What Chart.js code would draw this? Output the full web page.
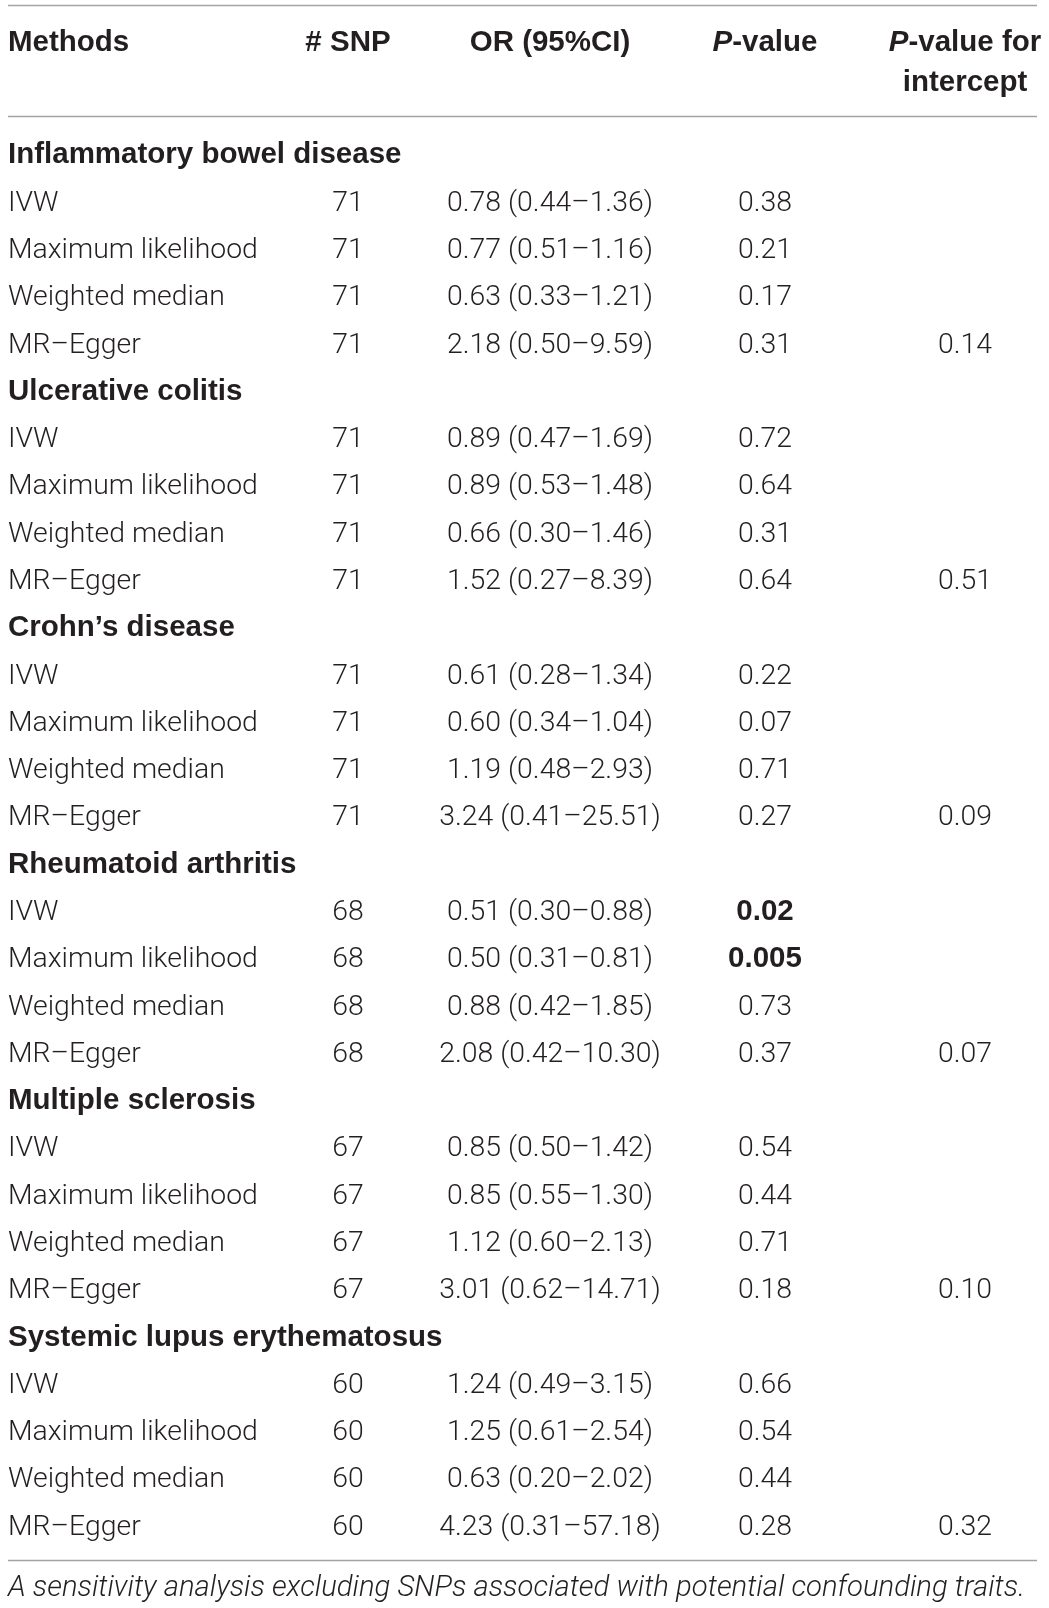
<!DOCTYPE html>
<html>
<head>
<meta charset="utf-8">
<title>Sensitivity analysis</title>
<script src="https://cdn.jsdelivr.net/npm/chart.js@4.4.1/dist/chart.umd.min.js"></script>
<style>
  html, body { margin: 0; padding: 0; background: #ffffff; }
  #wrap { width: 1049px; height: 1608px; }
</style>
</head>
<body>
<div id="wrap"><canvas id="tableChart" width="1049" height="1608"></canvas></div>
<script>
// ---- table data ----
var diseases = ['Inflammatory bowel disease', 'Ulcerative colitis', 'Crohn\u2019s disease',
                'Rheumatoid arthritis', 'Multiple sclerosis', 'Systemic lupus erythematosus'];
var methods = ['IVW', 'Maximum likelihood', 'Weighted median', 'MR\u2013Egger'];
var snpCounts = [71, 71, 71, 68, 67, 60];
var orEstimate = [
    [0.78, 0.77, 0.63, 2.18],
    [0.89, 0.89, 0.66, 1.52],
    [0.61, 0.60, 1.19, 3.24],
    [0.51, 0.50, 0.88, 2.08],
    [0.85, 0.85, 1.12, 3.01],
    [1.24, 1.25, 0.63, 4.23]
];
var ciLower = [
    [0.44, 0.51, 0.33, 0.50],
    [0.47, 0.53, 0.30, 0.27],
    [0.28, 0.34, 0.48, 0.41],
    [0.30, 0.31, 0.42, 0.42],
    [0.50, 0.55, 0.60, 0.62],
    [0.49, 0.61, 0.20, 0.31]
];
var ciUpper = [
    [1.36, 1.16, 1.21, 9.59],
    [1.69, 1.48, 1.46, 8.39],
    [1.34, 1.04, 2.93, 25.51],
    [0.88, 0.81, 1.85, 10.30],
    [1.42, 1.30, 2.13, 14.71],
    [3.15, 2.54, 2.02, 57.18]
];
var pValues = [
    ['0.38', '0.21', '0.17', '0.31'],
    ['0.72', '0.64', '0.31', '0.64'],
    ['0.22', '0.07', '0.71', '0.27'],
    ['0.02', '0.005', '0.73', '0.37'],
    ['0.54', '0.44', '0.71', '0.18'],
    ['0.66', '0.54', '0.44', '0.28']
];
var interceptP = ['0.14', '0.51', '0.09', '0.07', '0.10', '0.32'];
var footnote = 'A sensitivity analysis excluding SNPs associated with potential confounding traits.';

// ---- layout ----
var colX = [8, 348, 550, 765, 965];        // left edge for col 0, centre for the rest
var headerRows = [-2.37, -1.54];           // header line 1 / line 2 (row units)
var ruleRows = [-3.13, -0.78, 29.76];      // horizontal rules
var footRow = 30.29;
var ink = '#231f20';
var fonts = {
    light: '300 28.4px Roboto',
    bold: 'bold 29.5px "Liberation Sans"',
    boldItalic: 'italic bold 29.5px "Liberation Sans"',
    italic: 'italic 300 29.3px Roboto'
};

function rowOf(g, m) { return g * 5 + 1 + m; }
function fmt(v) { return v.toFixed(2); }

// build one dataset per column
var colMethods = [], colSnp = [], colOr = [], colP = [], colInt = [];
diseases.forEach(function (name, g) {
    colMethods.push({ x: colX[0], y: g * 5, runs: [[name, 'bold']] });
    methods.forEach(function (m, k) {
        var r = rowOf(g, k);
        colMethods.push({ x: colX[0], y: r, runs: [[m, 'light']] });
        colSnp.push({ x: colX[1], y: r, runs: [[String(snpCounts[g]), 'light']] });
        colOr.push({ x: colX[2], y: r, runs: [[fmt(orEstimate[g][k]) + ' (' + fmt(ciLower[g][k]) +
            '\u2013' + fmt(ciUpper[g][k]) + ')', 'light']] });
        var p = pValues[g][k];
        colP.push({ x: colX[3], y: r, runs: [[p, Number(p) < 0.05 ? 'bold' : 'light']] });
        if (k === 3) colInt.push({ x: colX[4], y: r, runs: [[interceptP[g], 'light']] });
    });
});

var header = [
    { x: colX[0], y: headerRows[0], runs: [['Methods', 'bold']], align: 'left' },
    { x: colX[1], y: headerRows[0], runs: [['# SNP', 'bold']] },
    { x: colX[2], y: headerRows[0], runs: [['OR (95%CI)', 'bold']] },
    { x: colX[3], y: headerRows[0], runs: [['P', 'boldItalic'], ['-value', 'bold']] },
    { x: colX[4], y: headerRows[0], runs: [['P', 'boldItalic'], ['-value for', 'bold']] },
    { x: colX[4], y: headerRows[1], runs: [['intercept', 'bold']] }
];
var foot = [{ x: colX[0], y: footRow, runs: [[footnote, 'italic']], align: 'left' }];

function textSet(label, data, align) {
    return { label: label, data: data, align: align, pointRadius: 0, pointHoverRadius: 0 };
}

function drawRuns(ctx, runs, x, y, align) {
    var total = 0;
    runs.forEach(function (r) { ctx.font = fonts[r[1]]; total += ctx.measureText(r[0]).width; });
    var cx = align === 'left' ? x : x - total / 2;
    runs.forEach(function (r) {
        ctx.font = fonts[r[1]];
        ctx.fillText(r[0], cx, y + 10.5);
        cx += ctx.measureText(r[0]).width;
    });
}

var tablePlugin = {
    id: 'tablePlugin',
    beforeDatasetsDraw: function (chart) {
        var ctx = chart.ctx, xs = chart.scales.x, ys = chart.scales.y;
        ctx.save();
        ctx.strokeStyle = '#a3a3a3';
        ctx.lineWidth = 1.5;
        ruleRows.forEach(function (r) {
            var py = Math.round(ys.getPixelForValue(r)) + 0.5;
            ctx.beginPath();
            ctx.moveTo(xs.getPixelForValue(8), py);
            ctx.lineTo(xs.getPixelForValue(1037), py);
            ctx.stroke();
        });
        ctx.restore();
    },
    afterDatasetsDraw: function (chart) {
        var ctx = chart.ctx;
        ctx.save();
        ctx.fillStyle = ink;
        ctx.textBaseline = 'alphabetic';
        ctx.textAlign = 'left';
        chart.data.datasets.forEach(function (ds, i) {
            var meta = chart.getDatasetMeta(i);
            meta.data.forEach(function (pt, j) {
                var cell = ds.data[j];
                drawRuns(ctx, cell.runs, pt.x, pt.y, cell.align || ds.align);
            });
        });
        ctx.restore();
    }
};

var ctx = document.getElementById('tableChart').getContext('2d');
var tableChart = new Chart(ctx, {
    type: 'scatter',
    data: {
        datasets: [
            textSet('Header', header, 'center'),
            textSet('Methods', colMethods, 'left'),
            textSet('# SNP', colSnp, 'center'),
            textSet('OR (95%CI)', colOr, 'center'),
            textSet('P-value', colP, 'center'),
            textSet('P-value for intercept', colInt, 'center'),
            textSet('Note', foot, 'left')
        ]
    },
    plugins: [tablePlugin],
    options: {
        responsive: false,
        animation: false,
        devicePixelRatio: 1,
        layout: { padding: 0, autoPadding: false },
        plugins: { legend: { display: false }, tooltip: { enabled: false } },
        events: [],
        scales: {
            x: { type: 'linear', display: false, min: 0, max: 1049 },
            y: { type: 'linear', display: false, reverse: true, min: -3.236, max: 30.774 }
        }
    }
});
</script>
</body>
</html>
